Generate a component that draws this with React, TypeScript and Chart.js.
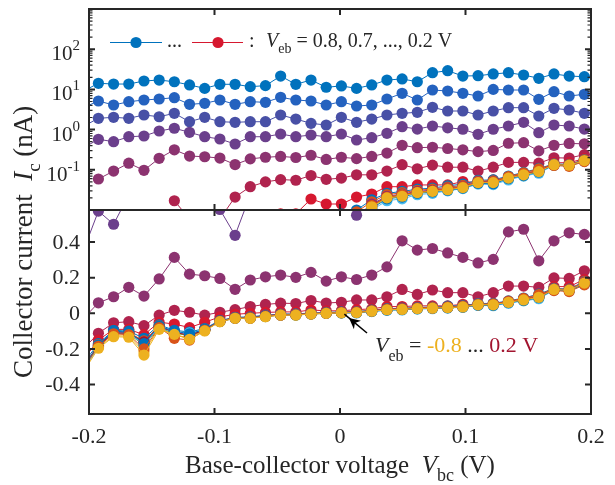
import React, { useEffect, useRef } from 'react';
import { Chart, registerables } from 'chart.js';

Chart.register(...registerables);

// ---------- data ----------
const VBC = [
  -0.2046, -0.1925, -0.1804, -0.1683, -0.1562, -0.1441, -0.132, -0.1199, -0.1078, -0.0957, -0.0836,
  -0.0715, -0.0594, -0.0473, -0.0352, -0.0231, -0.011, 0.0011, 0.0132, 0.0253, 0.0374, 0.0495,
  0.0616, 0.0737, 0.0858, 0.0979, 0.11, 0.1221, 0.1342, 0.1463, 0.1584, 0.1705, 0.1826, 0.1947, 0.2068,
];

const VEB = ['0.8', '0.7', '0.6', '0.5', '0.4', '0.3', '0.2', '0.1', '0.0', '-0.1', '-0.2', '-0.3', '-0.4', '-0.5', '-0.6', '-0.7', '-0.8'];

const I_P08 = [9.0, 14.2, 13.6, 13.6, 16.2, 17.1, 15.5, 12.9, 10.6, 13.4, 13.4, 11.7, 12.4, 21.5, 13.4, 17.1, 11.3, 12.2, 10.6, 12.9, 17.1, 18.2, 15.5, 26.0, 29.2, 21.5, 21.9, 24.2, 26.0, 22.8, 18.9, 24.2, 21.5, 20.7, 22.0];
const I_P07 = [3.5, 5.14, 4.09, 4.94, 5.45, 5.77, 6.22, 4.26, 4.51, 5.45, 4.26, 4.94, 4.78, 6.36, 5.45, 5.14, 4.09, 4.94, 3.86, 4.09, 5.77, 8.0, 5.45, 9.66, 9.12, 8.0, 6.85, 10.0, 9.66, 9.66, 5.67, 8.77, 6.85, 7.55, 8.0];
const I_P06 = [1.2, 1.91, 2.02, 1.91, 2.31, 2.09, 2.54, 1.57, 2.02, 1.57, 1.52, 1.57, 1.57, 2.31, 1.83, 1.43, 1.3, 2.02, 1.52, 1.83, 2.31, 2.54, 2.69, 3.59, 2.9, 2.9, 2.31, 2.9, 3.51, 3.51, 2.18, 3.39, 3.07, 2.54, 2.8];
const I_P05 = [0.35, 0.574, 0.5, 0.665, 0.693, 0.923, 1.08, 0.857, 0.665, 0.583, 0.438, 0.665, 0.665, 0.778, 0.665, 0.734, 0.665, 0.778, 0.551, 0.629, 0.809, 1.18, 1.03, 1.23, 1.11, 1.02, 0.764, 1.02, 1.23, 1.52, 0.838, 1.3, 1.23, 1.03, 1.1];
const I_P04 = [-0.03, 0.059, 0.093, 0.146, 0.097, 0.193, 0.314, 0.22, 0.211, 0.196, 0.135, 0.187, 0.205, 0.215, 0.202, 0.23, 0.181, 0.205, 0.19, 0.215, 0.261, 0.407, 0.355, 0.364, 0.339, 0.314, 0.283, 0.303, 0.457, 0.472, 0.295, 0.407, 0.452, 0.443, 0.42];
const I_P03 = [-0.2, -0.112, -0.053, -0.047, -0.069, -0.01, 0.017, 0.006, -0.01, 0.006, 0.021, 0.038, 0.05, 0.057, 0.055, 0.072, 0.058, 0.062, 0.075, 0.075, 0.093, 0.134, 0.106, 0.131, 0.116, 0.116, 0.093, 0.116, 0.153, 0.153, 0.146, 0.199, 0.196, 0.239, 0.25];
const I_P02 = [-0.26, -0.15, -0.09, -0.09, -0.12, -0.05, -0.06, -0.08, -0.05, -0.02, -0.005, 0.0, 0.005, 0.008, 0.008, 0.0188, 0.0141, 0.0141, 0.021, 0.025, 0.038, 0.038, 0.042, 0.042, 0.042, 0.051, 0.048, 0.056, 0.062, 0.081, 0.09, 0.15, 0.15, 0.19, 0.21];
const I_P01 = [-0.28, -0.17, -0.095, -0.1, -0.14, -0.065, -0.095, -0.105, -0.085, -0.04, -0.022, -0.02, -0.01, -0.004, -0.003, 0.002, 0.005, 0.008, 0.01, 0.018, 0.026, 0.029, 0.033, 0.035, 0.04, 0.044, 0.055, 0.056, 0.07, 0.086, 0.108, 0.14, 0.136, 0.18, 0.21];
const I_P00 = [-0.3, -0.175, -0.105, -0.108, -0.155, -0.07, -0.125, -0.135, -0.09, -0.042, -0.025, -0.023, -0.013, -0.006, -0.005, 0.0, 0.003, 0.006, 0.009, 0.016, 0.024, 0.027, 0.031, 0.033, 0.037, 0.041, 0.052, 0.053, 0.068, 0.084, 0.105, 0.138, 0.134, 0.178, 0.21];
const I_N01 = [-0.32, -0.19, -0.125, -0.128, -0.215, -0.085, -0.12, -0.14, -0.097, -0.046, -0.027, -0.027, -0.018, -0.009, -0.009, -0.004, 0.0, 0.003, 0.005, 0.012, 0.02, 0.022, 0.027, 0.029, 0.032, 0.036, 0.048, 0.048, 0.062, 0.076, 0.091, 0.134, 0.13, 0.17, 0.2];
const I_N02 = [-0.3, -0.182, -0.108, -0.11, -0.165, -0.076, -0.108, -0.12, -0.093, -0.043, -0.026, -0.024, -0.014, -0.007, -0.007, -0.002, 0.002, 0.005, 0.007, 0.014, 0.022, 0.025, 0.029, 0.031, 0.035, 0.039, 0.05, 0.05, 0.064, 0.078, 0.094, 0.135, 0.132, 0.172, 0.21];
const I_N03 = [-0.31, -0.185, -0.112, -0.115, -0.18, -0.08, -0.112, -0.125, -0.095, -0.045, -0.027, -0.026, -0.017, -0.009, -0.009, -0.003, 0.001, 0.003, 0.004, 0.012, 0.02, 0.022, 0.027, 0.029, 0.032, 0.036, 0.047, 0.047, 0.061, 0.074, 0.089, 0.133, 0.129, 0.168, 0.2];
const I_N04 = [-0.32, -0.188, -0.11, -0.112, -0.175, -0.078, -0.11, -0.11, -0.095, -0.046, -0.028, -0.027, -0.018, -0.01, -0.009, -0.004, 0.0, 0.002, 0.002, 0.01, 0.017, 0.019, 0.024, 0.026, 0.03, 0.034, 0.044, 0.043, 0.056, 0.07, 0.082, 0.13, 0.125, 0.162, 0.19];
const I_N05 = [-0.3, -0.18, -0.11, -0.112, -0.16, -0.075, -0.105, -0.125, -0.092, -0.044, -0.027, -0.026, -0.016, -0.009, -0.008, -0.003, 0.001, 0.004, 0.006, 0.013, 0.021, 0.023, 0.028, 0.03, 0.033, 0.037, 0.048, 0.049, 0.062, 0.076, 0.092, 0.133, 0.13, 0.17, 0.2];
const I_N06 = [-0.3, -0.178, -0.1, -0.105, -0.17, -0.072, -0.1, -0.115, -0.09, -0.044, -0.026, -0.025, -0.016, -0.008, -0.008, -0.003, 0.001, 0.003, 0.004, 0.011, 0.019, 0.021, 0.026, 0.028, 0.031, 0.035, 0.046, 0.045, 0.06, 0.072, 0.088, 0.132, 0.128, 0.165, 0.2];
const I_N07 = [-0.31, -0.185, -0.115, -0.12, -0.2, -0.08, -0.14, -0.15, -0.095, -0.045, -0.027, -0.026, -0.017, -0.009, -0.008, -0.003, 0.001, 0.004, 0.006, 0.013, 0.021, 0.024, 0.028, 0.03, 0.034, 0.038, 0.049, 0.05, 0.065, 0.08, 0.1, 0.128, 0.122, 0.16, 0.19];
const I_N08 = [-0.33, -0.196, -0.131, -0.134, -0.234, -0.09, -0.118, -0.146, -0.099, -0.047, -0.028, -0.028, -0.019, -0.01, -0.01, -0.004, 0.0, 0.003, 0.004, 0.012, 0.02, 0.022, 0.027, 0.029, 0.032, 0.036, 0.048, 0.048, 0.062, 0.075, 0.09, 0.134, 0.13, 0.17, 0.2];

const CURRENTS = [I_P08, I_P07, I_P06, I_P05, I_P04, I_P03, I_P02, I_P01, I_P00, I_N01, I_N02, I_N03, I_N04, I_N05, I_N06, I_N07, I_N08];

const COLORS = [
  '#0072BD', '#2462BF', '#4850A6', '#6B3F8C', '#8C3370', '#B0234E', '#D6182F',
  '#0072BD', '#D95319', '#EDB120', '#7E2F8E', '#77AC30', '#4DBEEE', '#A2142F', '#0072BD', '#D95319', '#EDB120',
];

const X_TICKS = [-0.2, -0.1, 0, 0.1, 0.2];
const X_TICK_LABELS = ['-0.2', '-0.1', '0', '0.1', '0.2'];
const LIN_TICKS = [-0.4, -0.2, 0, 0.2, 0.4];
const LIN_TICK_LABELS = ['-0.4', '-0.2', '0', '0.2', '0.4'];
const LOG_EXPONENTS = [-1, 0, 1, 2];
const LOG_RANGE = [0.01, 1000];
const LIN_RANGE = [-0.565, 0.58];
const X_RANGE = [-0.2, 0.2];

// ---------- drawing helpers ----------
const FONT = '"Liberation Serif", "Times New Roman", Times, serif';
const INK = '#262626';

type Part = { t: string; size: number; italic?: boolean; dy?: number; color?: string };

const fontOf = (p: Part) => `${p.italic ? 'italic ' : ''}${p.size}px ${FONT}`;

function widthOf(ctx: CanvasRenderingContext2D, parts: Part[]) {
  let w = 0;
  for (const p of parts) {
    ctx.font = fontOf(p);
    w += ctx.measureText(p.t).width;
  }
  return w;
}

function drawParts(ctx: CanvasRenderingContext2D, x: number, y: number, parts: Part[]) {
  let cx = x;
  ctx.textAlign = 'left';
  ctx.textBaseline = 'alphabetic';
  for (const p of parts) {
    ctx.font = fontOf(p);
    ctx.fillStyle = p.color ?? INK;
    ctx.fillText(p.t, cx, y + (p.dy ?? 0));
    cx += ctx.measureText(p.t).width;
  }
  return cx;
}

function seg(ctx: CanvasRenderingContext2D, x1: number, y1: number, x2: number, y2: number) {
  ctx.moveTo(x1, y1);
  ctx.lineTo(x2, y2);
}

function dot(ctx: CanvasRenderingContext2D, x: number, y: number, r: number, color: string) {
  ctx.beginPath();
  ctx.arc(x, y, r, 0, Math.PI * 2);
  ctx.fillStyle = color;
  ctx.fill();
}

function makeDatasets() {
  return VEB.map((v, i) => ({
    label: `Veb = ${v} V`,
    data: VBC.map((x, k) => ({ x, y: CURRENTS[i][k] })),
    borderColor: COLORS[i],
    backgroundColor: COLORS[i],
    borderWidth: 1,
    pointRadius: 5.6,
    pointBorderWidth: 0,
    pointHoverRadius: 5.6,
    order: -i,
    clip: 0,
  }));
}

const topPanel = {
  id: 'topPanel',
  afterDraw(chart: any) {
    const { ctx, chartArea: a } = chart;
    const xs = chart.scales.x;
    const ys = chart.scales.y;
    ctx.save();
    ctx.strokeStyle = INK;
    ctx.lineWidth = 2;
    ctx.beginPath();
    for (const t of X_TICKS) {
      const p = xs.getPixelForValue(t);
      seg(ctx, p, a.top, p, a.top + 6);
      seg(ctx, p, a.bottom, p, a.bottom - 6);
    }
    const e0 = Math.round(Math.log10(LOG_RANGE[0]));
    const e1 = Math.round(Math.log10(LOG_RANGE[1]));
    for (let e = e0; e <= e1; e++) {
      const p = ys.getPixelForValue(Math.pow(10, e));
      seg(ctx, a.left, p, a.left + 6, p);
      seg(ctx, a.right, p, a.right - 6, p);
    }
    ctx.stroke();
    ctx.lineWidth = 1.2;
    ctx.beginPath();
    for (let e = e0; e < e1; e++) {
      for (let m = 2; m <= 9; m++) {
        const p = ys.getPixelForValue(m * Math.pow(10, e));
        seg(ctx, a.left, p, a.left + 3.5, p);
        seg(ctx, a.right, p, a.right - 3.5, p);
      }
    }
    ctx.stroke();
    ctx.lineWidth = 2;
    ctx.strokeRect(a.left, a.top, a.right - a.left, a.bottom - a.top);

    for (const e of LOG_EXPONENTS) {
      const p = ys.getPixelForValue(Math.pow(10, e));
      const parts: Part[] = [
        { t: '10', size: 21 },
        { t: String(e), size: 15, dy: -10 },
      ];
      const w = widthOf(ctx, parts);
      drawParts(ctx, a.left - 9 - w, p + 11, parts);
    }

    // legend
    const ly = 42.5;
    ctx.lineWidth = 1;
    ctx.strokeStyle = COLORS[0];
    ctx.beginPath();
    seg(ctx, 110, ly, 162, ly);
    ctx.stroke();
    dot(ctx, 136, ly, 5.6, COLORS[0]);
    drawParts(ctx, 167, 47, [{ t: '...', size: 20 }]);
    ctx.strokeStyle = COLORS[6];
    ctx.beginPath();
    seg(ctx, 192, ly, 243, ly);
    ctx.stroke();
    dot(ctx, 218, ly, 5.6, COLORS[6]);
    drawParts(ctx, 249, 47, [{ t: ':', size: 20 }]);
    drawParts(ctx, 266, 47, [
      { t: 'V', size: 20, italic: true },
      { t: 'eb', size: 14, dy: 6 },
      { t: ` = ${VEB[0]}, ${VEB[1]}, ..., ${VEB[6]} V`, size: 20 },
    ]);
    ctx.restore();
  },
};

const bottomPanel = {
  id: 'bottomPanel',
  afterDraw(chart: any) {
    const { ctx, chartArea: a } = chart;
    const xs = chart.scales.x;
    const ys = chart.scales.y;
    ctx.save();
    ctx.strokeStyle = INK;
    ctx.lineWidth = 2;
    ctx.beginPath();
    for (const t of X_TICKS) {
      const p = xs.getPixelForValue(t);
      seg(ctx, p, a.top, p, a.top + 6);
      seg(ctx, p, a.bottom, p, a.bottom - 6);
    }
    for (const t of LIN_TICKS) {
      const p = ys.getPixelForValue(t);
      seg(ctx, a.left, p, a.left + 6, p);
      seg(ctx, a.right, p, a.right - 6, p);
    }
    ctx.stroke();
    ctx.strokeRect(a.left, a.top, a.right - a.left, a.bottom - a.top);

    // y tick labels
    ctx.fillStyle = INK;
    ctx.font = `22px ${FONT}`;
    ctx.textAlign = 'right';
    ctx.textBaseline = 'middle';
    LIN_TICKS.forEach((t, i) => {
      ctx.fillText(LIN_TICK_LABELS[i], a.left - 9, ys.getPixelForValue(t) + 1);
    });
    // x tick labels
    ctx.textAlign = 'center';
    ctx.textBaseline = 'alphabetic';
    X_TICKS.forEach((t, i) => {
      ctx.fillText(X_TICK_LABELS[i], xs.getPixelForValue(t), 443);
    });

    // x title
    drawParts(ctx, 185, 473, [
      { t: 'Base-collector voltage  ', size: 25 },
      { t: 'V', size: 25, italic: true },
      { t: 'bc', size: 18, dy: 8 },
      { t: ' (V)', size: 25 },
    ]);

    // y title (rotated)
    ctx.save();
    ctx.translate(32, 378);
    ctx.rotate(-Math.PI / 2);
    drawParts(ctx, 0, 0, [
      { t: 'Collector current  ', size: 27 },
      { t: 'I', size: 27, italic: true },
      { t: 'c', size: 19, dy: 8 },
      { t: ' (nA)', size: 27 },
    ]);
    ctx.restore();

    // annotation arrow
    const tip = [349, 318];
    const tail = [367, 333];
    const ang = Math.atan2(tip[1] - tail[1], tip[0] - tail[0]);
    ctx.strokeStyle = '#000';
    ctx.lineWidth = 1.5;
    ctx.beginPath();
    seg(ctx, tail[0], tail[1], tip[0] + 6 * Math.cos(ang), tip[1] + 6 * Math.sin(ang));
    ctx.stroke();
    const hl = 11;
    const hw = 5.5;
    const bx = tip[0] - hl * Math.cos(ang);
    const by = tip[1] - hl * Math.sin(ang);
    const nx = -Math.sin(ang);
    const ny = Math.cos(ang);
    ctx.beginPath();
    ctx.moveTo(tip[0], tip[1]);
    ctx.lineTo(bx + hw * nx, by + hw * ny);
    ctx.lineTo(tip[0] - 0.7 * hl * Math.cos(ang), tip[1] - 0.7 * hl * Math.sin(ang));
    ctx.lineTo(bx - hw * nx, by - hw * ny);
    ctx.closePath();
    ctx.fillStyle = '#000';
    ctx.fill();

    drawParts(ctx, 375, 352, [
      { t: 'V', size: 22, italic: true },
      { t: 'eb', size: 16, dy: 9 },
      { t: ' = ', size: 22 },
      { t: VEB[16], size: 22, color: '#EDB120' },
      { t: ' ... ', size: 22 },
      { t: `${VEB[6]} V`, size: 22, color: '#A2142F' },
    ]);
    ctx.restore();
  },
};

export default function App() {
  const topRef = useRef<HTMLCanvasElement>(null);
  const botRef = useRef<HTMLCanvasElement>(null);

  useEffect(() => {
    const common = {
      responsive: false,
      animation: false as const,
      events: [] as any[],
      plugins: { legend: { display: false }, tooltip: { enabled: false } },
    };
    const top = new Chart(topRef.current!, {
      type: 'line',
      data: { datasets: makeDatasets() as any },
      options: {
        ...common,
        layout: { padding: { left: 89, right: 24, top: 9, bottom: 275 } },
        scales: {
          x: { type: 'linear', min: X_RANGE[0], max: X_RANGE[1], display: false },
          y: { type: 'logarithmic', min: LOG_RANGE[0], max: LOG_RANGE[1], display: false },
        },
      },
      plugins: [topPanel],
    });
    const bottom = new Chart(botRef.current!, {
      type: 'line',
      data: { datasets: makeDatasets() as any },
      options: {
        ...common,
        layout: { padding: { left: 89, right: 24, top: 210, bottom: 71 } },
        scales: {
          x: { type: 'linear', min: X_RANGE[0], max: X_RANGE[1], display: false },
          y: { type: 'linear', min: LIN_RANGE[0], max: LIN_RANGE[1], display: false },
        },
      },
      plugins: [bottomPanel],
    });
    return () => {
      top.destroy();
      bottom.destroy();
    };
  }, []);

  const cs: React.CSSProperties = { position: 'absolute', left: 0, top: 0 };
  return (
    <div style={{ position: 'absolute', left: 0, top: 0, width: 615, height: 485, background: '#fff' }}>
      <canvas ref={botRef} width={615} height={485} style={cs} />
      <canvas ref={topRef} width={615} height={485} style={cs} />
    </div>
  );
}
